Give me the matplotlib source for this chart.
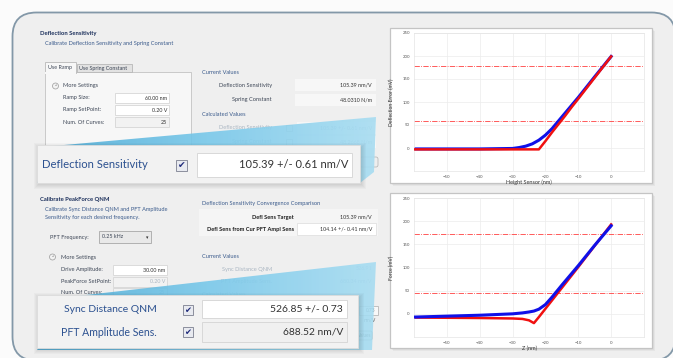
import numpy as np
import matplotlib
matplotlib.use("Agg")
import matplotlib.pyplot as plt
from matplotlib.patches import Rectangle, FancyBboxPatch, Polygon, Circle
from matplotlib.colors import LinearSegmentedColormap

plt.rcParams['font.family'] = ['Lato', 'DejaVu Sans']

W, H = 673, 358

# ramp curve, deflection error vs height sensor
height_nm = [-60, -50, -40, -30, -28, -26, -24, -22, -20, -18, -16, -14, -12, -10, -5, 0]
defl_extend = [-3, -3, -3, -3, -3, -3, -3, -3, 15, 34, 52, 70, 89, 107, 153, 199]
defl_retract = [-2, -2, -2, -1, 1, 4, 9, 17, 28, 42, 59, 76, 93, 110, 155, 199]
defl_guides = [178, 58]

# peakforce curve, force vs z
z_nm = [-60, -50, -40, -30, -27, -25, -23.5, -22, -20, -18, -15, -10, -5, 0]
force_red = [-8, -8.5, -9, -10, -11, -14, -20, -7, 11, 29, 56, 101, 147, 193]
force_blue = [-7, -5, -3, 0, 2, 4, 6, 10, 20, 36, 62, 104, 148, 190]
force_guides = [172, 46]

x_ticks = [-50, -40, -30, -20, -10, 0]
y_ticks = [0, 50, 100, 150, 200, 250]

TITLE = '#1b2f5b'
BLUE_TXT = '#3b5b8c'
LABEL = '#3d4656'
FADED = '#aab6c2'
CALLOUT = '#2c5190'
SMALL = 4.05
VAL = 3.9

fig = plt.figure(figsize=(W / 100, H / 100), dpi=100)
fig.patch.set_facecolor('#fbfbfb')
ui = fig.add_axes([0, 0, 1, 1])
ui.axis('off')


def box(x0, y0, x1, y1, fc, ec='none', lw=0.6, z=2, **kw):
    r = Rectangle((x0, y0), x1 - x0, y1 - y0, fc=fc, ec=ec, lw=lw, zorder=z, **kw)
    ui.add_patch(r)
    return r


def txt(x, y, s, size=SMALL, color=LABEL, ha='left', weight='normal', z=3):
    ui.text(x, y, s, fontsize=size, color=color, ha=ha, va='center',
            fontweight=weight, zorder=z)


def shadow(x0, y0, x1, y1, z):
    for k in range(1, 6):
        box(x0 - k + 2, y0 - k + 3, x1 + k + 1, y1 + k + 1, '#000000', alpha=0.025, z=z)


def checkbox(x, y, s, z):
    box(x, y, x + s, y + s, '#e8eaf0', '#7c8090', lw=0.6, z=z)
    ui.text(x + s / 2, y + s / 2 + 0.3, '\u2714', fontsize=s * 0.6, color='#1f2a7a',
            ha='center', va='center', family='DejaVu Sans', zorder=z + 0.1)


def wedge(points, z):
    poly = Polygon(points, closed=True, fc='none', ec='none', zorder=z)
    ui.add_patch(poly)
    xs = [p[0] for p in points]
    ys = [p[1] for p in points]
    cmap = LinearSegmentedColormap.from_list('wedge', ['#4aa9d4', '#78c8ea', '#a8ddf2'])
    grad = np.linspace(0, 1, 256).reshape(1, -1)
    im = ui.imshow(grad, extent=(min(xs), max(xs), max(ys), min(ys)), cmap=cmap,
                   aspect='auto', alpha=0.9, zorder=z, interpolation='bilinear')
    im.set_clip_path(poly)


# rounded outer panel
panel = FancyBboxPatch((12.5, 12.5), 663, 348, boxstyle='round,pad=0,rounding_size=24',
                       fc='#efefef', ec='#8398a8', lw=1.3, zorder=1)
ui.add_patch(panel)

# ---- Deflection Sensitivity section ----
txt(40, 34, 'Deflection Sensitivity', 4.2, TITLE, weight='bold')
txt(45, 44, 'Calibrate Deflection Sensitivity and Spring Constant', SMALL, BLUE_TXT)

box(45, 72, 191, 152, '#f7f7f7', '#c2c2c2')
box(45, 62, 76, 73, '#f7f7f7', '#b8b8b8', z=2.1)
box(45.3, 71.5, 75.7, 73.5, '#f7f7f7', z=2.2)
box(77, 64, 132, 72, '#e2e2e2', '#b8b8b8')
txt(48, 68, 'Use Ramp', 3.9)
txt(79, 68.5, 'Use Spring Constant', 3.9)

ui.add_patch(Circle((55.5, 86), 3, fc='#f2f2f2', ec='#9a9a9a', lw=0.5, zorder=3))
txt(55.5, 86.3, '^', 3, '#555555', ha='center')
txt(63, 86, 'More Settings')
ramp_rows = [('Ramp Size:', '60.00 nm'), ('Ramp SetPoint:', '0.20 V'), ('Num. Of Curves:', '25')]
for i, (lab, val) in enumerate(ramp_rows):
    y = 98 + 12 * i
    txt(63, y, lab)
    box(115, y - 5, 169, y + 5, '#ffffff' if i < 2 else '#f2f2f2', '#d6d6d6')
    txt(167, y, val, VAL, '#333333', ha='right')

txt(202, 72, 'Current Values', SMALL, BLUE_TXT)
cur_rows = [('Deflection Sensitivity', '105.39 nm/V'), ('Spring Constant', '48.0310 N/m')]
for i, (lab, val) in enumerate(cur_rows):
    y = 85 + 15 * i
    txt(272, y, lab, ha='right')
    box(295, y - 6, 376, y + 6, '#f7f7f7')
    txt(372, y, val, VAL, '#333333', ha='right')
txt(202, 115, 'Calculated Values', SMALL, BLUE_TXT)
calc_rows = [('Deflection Sensitivity', '105.39 +/- 0.61 nm/V'), ('Spring Constant', '48.2668 N/m')]
for i, (lab, val) in enumerate(calc_rows):
    y = 128 + 14 * i
    txt(272, y, lab, SMALL, FADED, ha='right')
    box(286, y - 3, 292, y + 3, '#f4f4f4', '#c8c8c8')
    box(297, y - 6, 376, y + 6, '#f6f6f6')
    txt(372, y, val, VAL, FADED, ha='right')
ui.add_patch(FancyBboxPatch((360, 157), 18, 10, boxstyle='round,pad=0,rounding_size=2',
                            fc='#eeeeee', ec='#b0b0b0', lw=0.5, zorder=2))

wedge([(53, 146), (376, 117), (374, 172), (360, 183), (37, 183)], 4)
shadow(37, 145, 360, 183, 4.5)
box(37, 145, 360, 183, '#f2f2f2', '#dcdcdc', z=5)
ui.text(42, 165, 'Deflection Sensitivity', fontsize=8.1, color=CALLOUT, va='center', zorder=6)
checkbox(176, 160, 11, 6)
box(197, 153, 352, 177, '#ffffff', '#d4d4d4', z=6)
ui.text(348, 165, '105.39 +/- 0.61 nm/V', fontsize=8.0, color='#333333', ha='right',
        va='center', zorder=7)

# ---- Calibrate PeakForce QNM section ----
txt(40, 199, 'Calibrate PeakForce QNM', 4.2, TITLE, weight='bold')
txt(45, 209, 'Calibrate Sync Distance QNM and PFT Amplitude', SMALL, BLUE_TXT)
txt(45, 217, 'Sensitivity for each desired frequency.', SMALL, BLUE_TXT)
txt(50, 237, 'PFT Frequency:')
box(99, 231, 151, 243, '#e9e9e9', '#a8a8a8')
txt(102, 237, '0.25 kHz', VAL)
ui.text(147, 237.5, '\u25be', fontsize=3.5, color='#333333', ha='center', va='center',
        family='DejaVu Sans', zorder=3)

ui.add_patch(Circle((52.5, 257), 3, fc='#f2f2f2', ec='#9a9a9a', lw=0.5, zorder=3))
txt(52.5, 257.3, '^', 3, '#555555', ha='center')
txt(61, 257, 'More Settings')
pf_rows = [('Drive Amplitude:', '30.00 nm'), ('PeakForce SetPoint:', '0.20 V'), ('Num. Of Curves:', '25')]
for i, (lab, val) in enumerate(pf_rows):
    y = 270 + 11.5 * i
    txt(61, y, lab)
    box(113, y - 5, 167, y + 5, '#ffffff' if i == 0 else '#f2f2f2', '#d6d6d6')
    txt(165, y, val, VAL, '#333333' if i == 0 else FADED, ha='right')

txt(202, 204, 'Deflection Sensitivity Convergence Comparison', SMALL, BLUE_TXT)
box(199, 209, 378, 236, '#f5f5f5')
txt(294, 217, 'Defl Sens Target', SMALL, '#1a1a1a', ha='right', weight='bold')
txt(372, 217, '105.39 nm/V', VAL, '#333333', ha='right')
txt(294, 229, 'Defl Sens from Cur PFT Ampl Sens', SMALL, '#1a1a1a', ha='right', weight='bold')
box(297, 223, 376, 235, '#ffffff', '#e0e0e0')
txt(372, 229, '104.14 +/- 0.41 nm/V', VAL, '#333333', ha='right')

txt(202, 256, 'Current Values', SMALL, BLUE_TXT)
txt(272, 269, 'Sync Distance QNM', SMALL, FADED, ha='right')
txt(372, 269, '526.91', VAL, FADED, ha='right')
txt(272, 281, 'PFT Amplitude Sens.', SMALL, FADED, ha='right')
txt(372, 281, '680.34 nm/V', VAL, FADED, ha='right')
txt(202, 294, 'Calculated Values', SMALL, FADED)
box(359, 306, 378, 315, '#f8f8f8', '#b8b8b8')
txt(376, 310.5, '0.73', 3.5, '#555555', ha='right')
txt(376, 320, 'nm/V', 3.5, '#555555', ha='right')
ui.add_patch(FancyBboxPatch((355, 331), 17, 9, boxstyle='round,pad=0,rounding_size=1.5',
                            fc='#e8e8e8', ec='#909090', lw=0.5, zorder=2))
txt(371, 335.5, 'Values', 3.3, '#333333', ha='right')

wedge([(77, 296), (376, 262), (372, 350), (37, 350)], 4)
shadow(37, 295, 358, 348, 4.5)
box(37, 295, 358, 348, '#f2f2f2', '#dcdcdc', z=5)
ui.text(157, 310, 'Sync Distance QNM', fontsize=7.5, color=CALLOUT, ha='right', va='center', zorder=6)
ui.text(157, 333, 'PFT Amplitude Sens.', fontsize=7.6, color=CALLOUT, ha='right', va='center', zorder=6)
checkbox(183, 305, 10, 6)
checkbox(183, 327, 10, 6)
box(202, 300, 347, 318, '#ffffff', '#d4d4d4', z=6)
box(202, 322, 347, 342, '#f0f0f0', '#d4d4d4', z=6)
ui.text(343, 309, '526.85 +/- 0.73', fontsize=7.5, color='#333333', ha='right', va='center', zorder=7)
ui.text(343, 332, '688.52 nm/V', fontsize=7.4, color='#333333', ha='right', va='center', zorder=7)

ui.set_xlim(0, W)
ui.set_ylim(H, 0)


# ---- curve panels ----
def curve_panel(frame, area, x, red, blue, guides, xlabel, ylabel, blue_on_top):
    fx0, fy0, fx1, fy1 = frame
    for k in range(1, 4):
        box(fx0 + k, fy0 + k, fx1 + k, fy1 + k, '#000000', alpha=0.04, z=2)
    box(fx0, fy0, fx1, fy1, '#ffffff', '#c4c4c4', lw=0.9, z=3)
    ax0, ay0, ax1, ay1 = area
    ax = fig.add_axes([ax0 / W, 1 - ay1 / H, (ax1 - ax0) / W, (ay1 - ay0) / H])
    ax.set_facecolor('white')
    ax.plot(x, blue, color='#1010e8', lw=2.2, zorder=3 if blue_on_top else 2)
    ax.plot(x, red, color='#f01010', lw=1.8, zorder=2 if blue_on_top else 3)
    for g in guides:
        ax.axhline(g, color='#ff4040', lw=0.6, ls='-.', zorder=1)
    ax.set_xlim(-60, 10)
    ax.set_ylim(-50, 250)
    ax.set_xticks(x_ticks)
    ax.set_yticks(y_ticks)
    ax.grid(True, color='#ececec', lw=0.5)
    ax.set_axisbelow(True)
    ax.tick_params(labelsize=3.1, colors='#555555', length=0, pad=3)
    for s in ax.spines.values():
        s.set_color('#e4e4e4')
        s.set_linewidth(0.5)
    ax.set_xlabel(xlabel, fontsize=4.0, color='#333333', labelpad=0.5)
    ax.set_ylabel(ylabel, fontsize=3.6, color='#333333', labelpad=6)
    return ax


curve_panel((390, 28, 652, 183), (414, 33, 644, 171), height_nm, defl_extend, defl_retract,
            defl_guides, 'Height Sensor (nm)', 'Deflection Error (mV)', False)
curve_panel((390, 193, 652, 348), (414, 198, 644, 337), z_nm, force_red, force_blue,
            force_guides, 'Z (nm)', 'Force (mV)', True)

fig.savefig('out.png', dpi=100)
